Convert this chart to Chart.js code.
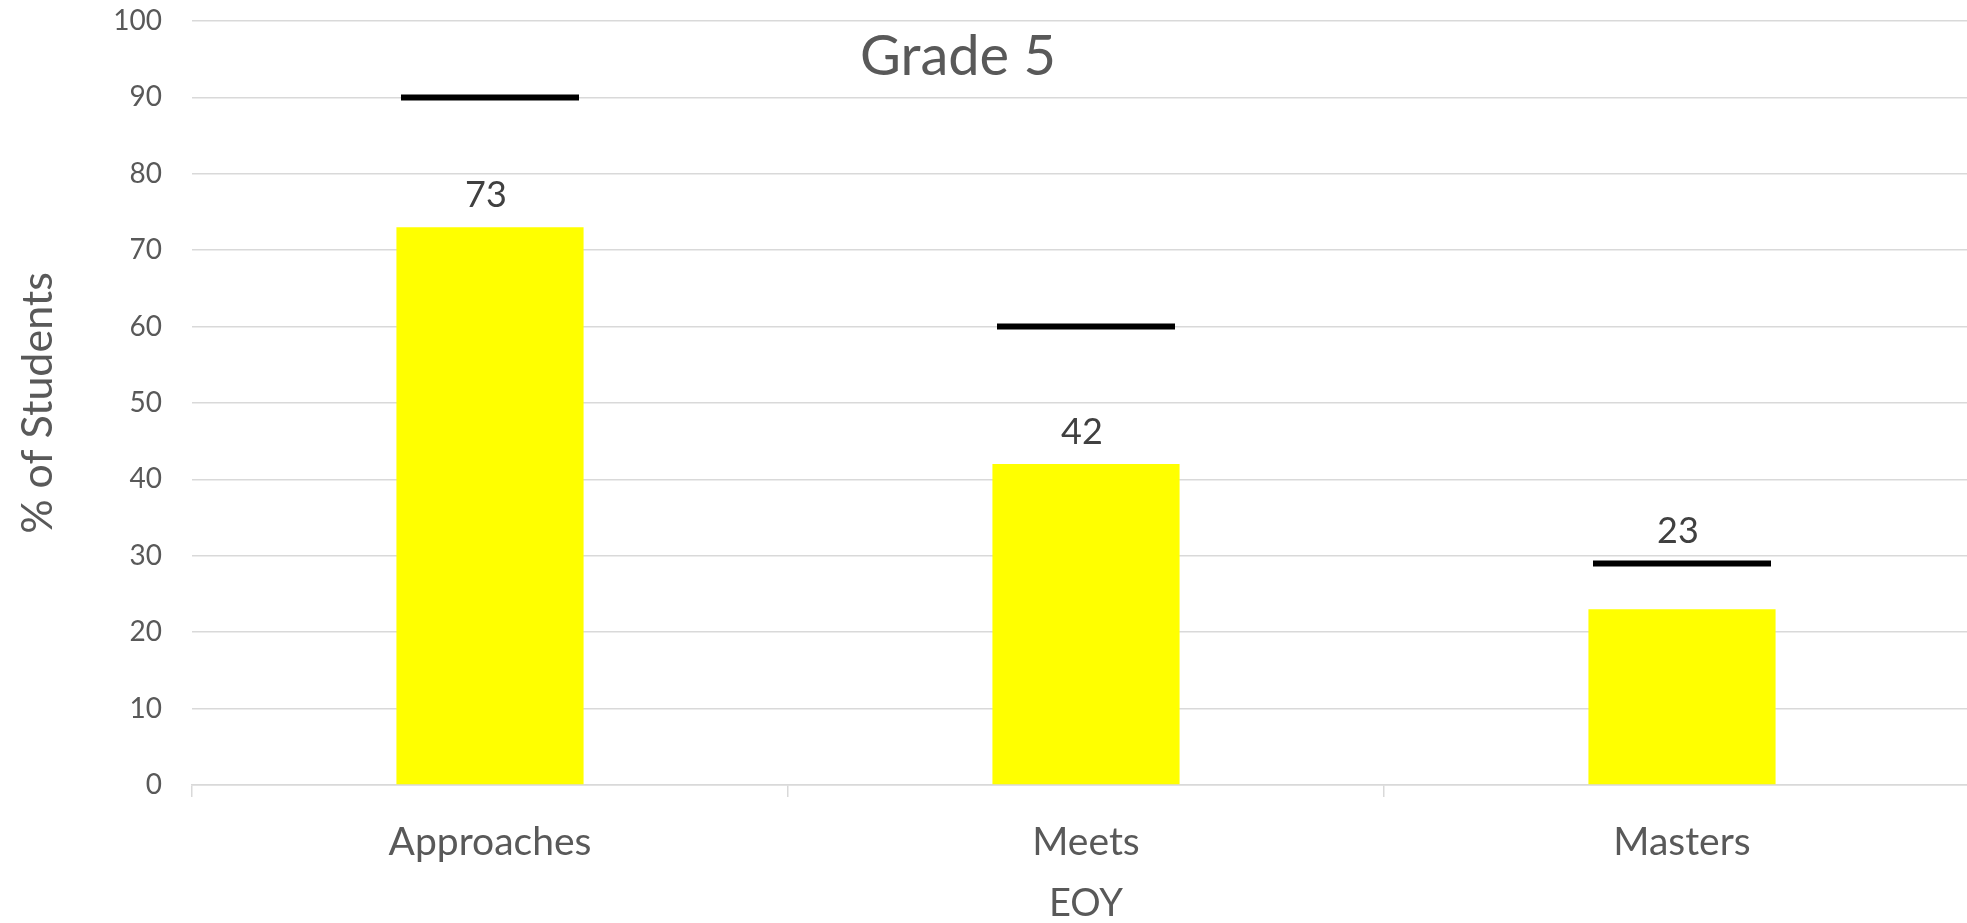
<!DOCTYPE html>
<html>
<head>
<meta charset="utf-8">
<title>Grade 5</title>
<script src="https://cdn.jsdelivr.net/npm/chart.js@4/dist/chart.umd.min.js"></script>
<style>
    html, body { margin: 0; padding: 0; background: #ffffff; overflow: hidden; }
    #wrap { width: 1980px; height: 923px; position: relative; }
</style>
</head>
<body>
<div id="wrap"><canvas id="myChart"></canvas></div>
<script>
// Данные графика
const categories = ['Approaches', 'Meets', 'Masters'];
const scores = [73, 42, 23];
const targets = [90, 60, 29];
const yTicks = [0, 10, 20, 30, 40, 50, 60, 70, 80, 90, 100];

const chartTitle = 'Grade 5';
const xTitle = 'EOY';
const yTitle = '% of Students';

const fontName = 'Lato, "Open Sans", sans-serif';

// Подписи значений над столбцами и заголовок
const labelsPlugin = {
    id: 'labelsPlugin',
    afterDatasetsDraw(chart) {
        const ctx = chart.ctx;
        const bars = chart.getDatasetMeta(0).data;
        const yScale = chart.scales.y;
        ctx.save();
        ctx.fillStyle = '#404040';
        ctx.font = `36px ${fontName}`;
        ctx.textAlign = 'center';
        ctx.textBaseline = 'alphabetic';
        bars.forEach((bar, i) => {
            let anchor = bar.y;
            // если цель совсем рядом, подпись уходит над ней
            if (targets[i] - scores[i] < 10) {
                anchor = Math.min(anchor, yScale.getPixelForValue(targets[i]));
            }
            ctx.fillText(String(scores[i]), bar.x - 4, anchor - 20);
        });

        ctx.fillStyle = '#595959';
        ctx.font = `56px ${fontName}`;
        ctx.fillText(chartTitle, 958, 75);
        ctx.restore();
    }
};

function renderChart() {
    const ctx = document.getElementById('myChart').getContext('2d');
    new Chart(ctx, {
        type: 'bar',
        data: {
            labels: categories,
            datasets: [{
                label: 'EOY',
                data: scores,
                backgroundColor: '#ffff00',
                borderWidth: 0,
                categoryPercentage: 1,
                barPercentage: 0.314,
                order: 2,
            }, {
                type: 'line',
                label: 'Target',
                data: targets,
                showLine: false,
                clip: false,
                pointStyle: 'line',
                pointRadius: 89,
                pointHoverRadius: 89,
                pointBorderWidth: 6,
                pointBorderColor: '#000000',
                pointBackgroundColor: '#000000',
                order: 1,
            }]
        },
        options: {
            responsive: true,
            maintainAspectRatio: false,
            animation: false,
            devicePixelRatio: 1,
            events: [],
            layout: {
                autoPadding: false,
                padding: { top: 21, right: 0, bottom: 0, left: 0 },
            },
            plugins: {
                legend: { display: false },
                tooltip: { enabled: false },
                title: { display: false },
            },
            scales: {
                x: {
                    offset: true,
                    grid: {
                        offset: true,
                        drawOnChartArea: false,
                        drawTicks: true,
                        tickLength: 12,
                        color: '#d9d9d9',
                        lineWidth: 1.5,
                    },
                    border: { display: true, color: '#d9d9d9', width: 1.5 },
                    ticks: {
                        color: '#595959',
                        padding: 22,
                        maxRotation: 0,
                        font: { family: fontName, size: 39 },
                    },
                    title: {
                        display: true,
                        text: xTitle,
                        color: '#595959',
                        padding: 0,
                        font: { family: fontName, size: 38, lineHeight: 1 },
                    },
                    afterFit(scale) {
                        scale.height = 138;
                        scale.paddingLeft = 0;
                        scale.paddingRight = 0;
                    },
                },
                y: {
                    min: yTicks[0],
                    max: yTicks[yTicks.length - 1],
                    afterBuildTicks(scale) {
                        scale.ticks = yTicks.map((v) => ({ value: v }));
                    },
                    grid: {
                        drawTicks: false,
                        color: '#d9d9d9',
                        lineWidth: 1.5,
                    },
                    border: { display: false },
                    ticks: {
                        color: '#595959',
                        padding: 30,
                        font: { family: fontName, size: 28 },
                    },
                    title: {
                        display: true,
                        text: yTitle,
                        color: '#595959',
                        padding: { top: 17, bottom: 0 },
                        font: { family: fontName, size: 43, lineHeight: 1 },
                    },
                    afterFit(scale) {
                        scale.width = 192;
                        scale.paddingTop = 0;
                        scale.paddingBottom = 0;
                    },
                }
            }
        },
        plugins: [labelsPlugin],
    });
}

document.addEventListener('DOMContentLoaded', () => {
    renderChart();
});
</script>
</body>
</html>
